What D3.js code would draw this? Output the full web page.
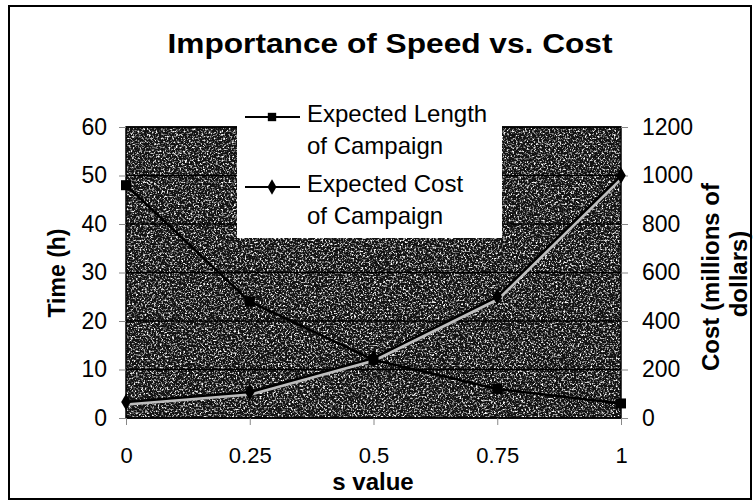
<!DOCTYPE html>
<html>
<head>
<script src="https://d3js.org/d3.v7.min.js"></script>
<style>
  body { margin: 0; background: #fff; }
  text { font-family: "Liberation Sans", Arial, sans-serif; }
</style>
</head>
<body>
<script>
// values
var sValues = [0, 0.25, 0.5, 0.75, 1];
var lengthHours = [48, 24, 12, 6, 3];
var costMillions = [66, 107, 247, 500, 1000];

var timeTicks = [0, 10, 20, 30, 40, 50, 60];
var costTicks = [0, 200, 400, 600, 800, 1000, 1200];
var sTicks = [0, 0.25, 0.5, 0.75, 1];
var sTickLabels = ['0', '0.25', '0.5', '0.75', '1'];

var legendLabels = [
  ['Expected Length', 'of Campaign'],
  ['Expected Cost', 'of Campaign']
];

var width = 754;
var height = 502;

var x = d3.scaleLinear().domain([0, 1]).range([126, 621]);
var yTime = d3.scaleLinear().domain([0, 60]).range([418, 127]);
var yCost = d3.scaleLinear().domain([0, 1200]).range([418, 127]);

var svg = d3.select('body')
    .append('svg')
    .attr('width', width)
    .attr('height', height);

// scanner-like speckle texture for the plot area
var defs = svg.append('defs');
var noise = defs.append('filter')
    .attr('id', 'speckle')
    .attr('x', 0).attr('y', 0).attr('width', '100%').attr('height', '100%');
noise.append('feTurbulence')
    .attr('type', 'fractalNoise')
    .attr('baseFrequency', 0.55)
    .attr('numOctaves', 4)
    .attr('seed', 7);
noise.append('feColorMatrix')
    .attr('type', 'matrix')
    .attr('values', '0 0 0 0 1  0 0 0 0 1  0 0 0 0 1  3.6 0 0 0 -1.75');

// outer frame
svg.append('rect')
    .attr('x', 9).attr('y', 6)
    .attr('width', 742).attr('height', 493)
    .attr('fill', 'none')
    .attr('stroke', '#000')
    .attr('stroke-width', 2);

// plot background
svg.append('rect')
    .attr('x', x(0)).attr('y', yTime(60))
    .attr('width', x(1) - x(0)).attr('height', yTime(0) - yTime(60))
    .attr('fill', '#121212');
svg.append('rect')
    .attr('x', x(0)).attr('y', yTime(60))
    .attr('width', x(1) - x(0)).attr('height', yTime(0) - yTime(60))
    .attr('fill', '#fff')
    .attr('filter', 'url(#speckle)');

// gridlines
svg.append('g')
  .selectAll('line')
  .data(timeTicks)
  .enter()
  .append('line')
    .attr('x1', x(0)).attr('x2', x(1))
    .attr('y1', function(d) { return yTime(d); })
    .attr('y2', function(d) { return yTime(d); })
    .attr('stroke', '#000')
    .attr('stroke-width', 1.5);

svg.append('rect')
    .attr('x', x(0)).attr('y', yTime(60))
    .attr('width', x(1) - x(0)).attr('height', yTime(0) - yTime(60))
    .attr('fill', 'none')
    .attr('stroke', '#000')
    .attr('stroke-width', 1.5);

// axes
var leftAxis = svg.append('g')
    .attr('transform', 'translate(' + x(0) + ',0)')
    .call(d3.axisLeft(yTime).tickValues(timeTicks).tickSize(7).tickPadding(12));

var rightAxis = svg.append('g')
    .attr('transform', 'translate(' + x(1) + ',0)')
    .call(d3.axisRight(yCost).tickValues(costTicks).tickSize(7).tickPadding(14)
      .tickFormat(d3.format('d')));

var bottomAxis = svg.append('g')
    .attr('transform', 'translate(0,' + yTime(0) + ')')
    .call(d3.axisBottom(x).tickValues(sTicks).tickSize(7).tickPadding(22)
      .tickFormat(function(d, i) { return sTickLabels[i]; }));

[leftAxis, rightAxis, bottomAxis].forEach(function(a) {
  a.select('.domain').remove();
  a.selectAll('.tick line').attr('stroke', '#888');
  a.selectAll('.tick text')
    .attr('fill', '#000')
    .style('font-size', '23px')
    .style('font-family', '"Liberation Sans", Arial, sans-serif');
});
bottomAxis.selectAll('.tick text').style('font-size', '22px');

// series
var lengthLine = d3.line()
    .x(function(d, i) { return x(sValues[i]); })
    .y(function(d) { return yTime(d); });

var costLine = d3.line()
    .x(function(d, i) { return x(sValues[i]); })
    .y(function(d) { return yCost(d); });

svg.append('path')
    .attr('d', costLine(costMillions))
    .attr('fill', 'none')
    .attr('stroke', '#bdbdbd')
    .attr('stroke-width', 3.5)
    .attr('transform', 'translate(1,2)');
svg.append('path')
    .attr('d', costLine(costMillions))
    .attr('fill', 'none')
    .attr('stroke', '#000')
    .attr('stroke-width', 2.5);

svg.append('path')
    .attr('d', lengthLine(lengthHours))
    .attr('fill', 'none')
    .attr('stroke', '#000')
    .attr('stroke-width', 2.5);

var square = d3.symbol().type(d3.symbolSquare).size(100);
var diamond = d3.symbol().type(d3.symbolDiamond).size(80);

svg.append('g')
  .selectAll('path')
  .data(lengthHours)
  .enter()
  .append('path')
    .attr('d', square)
    .attr('transform', function(d, i) { return 'translate(' + x(sValues[i]) + ',' + yTime(d) + ')'; })
    .attr('fill', '#000');

svg.append('g')
  .selectAll('path')
  .data(costMillions)
  .enter()
  .append('path')
    .attr('d', diamond)
    .attr('transform', function(d, i) { return 'translate(' + x(sValues[i]) + ',' + yCost(d) + ')'; })
    .attr('fill', '#000');

// legend
var legend = svg.append('g').attr('transform', 'translate(237,97)');
legend.append('rect')
    .attr('width', 265).attr('height', 141)
    .attr('fill', '#fff');

var rows = legend.selectAll('.row')
    .data(legendLabels)
  .enter()
  .append('g')
    .attr('class', 'row')
    .attr('transform', function(d, i) { return 'translate(0,' + (20 + i * 70) + ')'; });

rows.append('line')
    .attr('x1', 8).attr('x2', 63)
    .attr('y1', 0).attr('y2', 0)
    .attr('stroke', '#000')
    .attr('stroke-width', 2);

rows.append('path')
    .attr('d', function(d, i) { return i === 0 ? d3.symbol().type(d3.symbolSquare).size(70)() : d3.symbol().type(d3.symbolDiamond).size(70)(); })
    .attr('transform', 'translate(35,0)')
    .attr('fill', '#000');

rows.append('text')
    .attr('x', 70)
    .style('font-size', '24px')
    .selectAll('tspan')
    .data(function(d) { return d; })
    .enter()
    .append('tspan')
      .attr('x', 70)
      .attr('y', function(d, j) { return 5 + j * 32; })
      .text(function(d) { return d; });

// titles
svg.append('text')
    .attr('x', 390)
    .attr('y', 53)
    .attr('text-anchor', 'middle')
    .attr('textLength', 445)
    .attr('lengthAdjust', 'spacingAndGlyphs')
    .style('font-size', '28px')
    .style('font-weight', 'bold')
    .text('Importance of Speed vs. Cost');

svg.append('text')
    .attr('x', 373)
    .attr('y', 490)
    .attr('text-anchor', 'middle')
    .style('font-size', '24px')
    .style('font-weight', 'bold')
    .text('s value');

svg.append('text')
    .attr('transform', 'translate(65,273) rotate(-90)')
    .attr('text-anchor', 'middle')
    .style('font-size', '23px')
    .style('font-weight', 'bold')
    .text('Time (h)');

svg.append('text')
    .attr('transform', 'translate(719,277) rotate(-90)')
    .attr('text-anchor', 'middle')
    .style('font-size', '24px')
    .style('font-weight', 'bold')
    .text('Cost (millions of');

svg.append('text')
    .attr('transform', 'translate(747,274) rotate(-90)')
    .attr('text-anchor', 'middle')
    .style('font-size', '24px')
    .style('font-weight', 'bold')
    .text('dollars)');
</script>
</body>
</html>
